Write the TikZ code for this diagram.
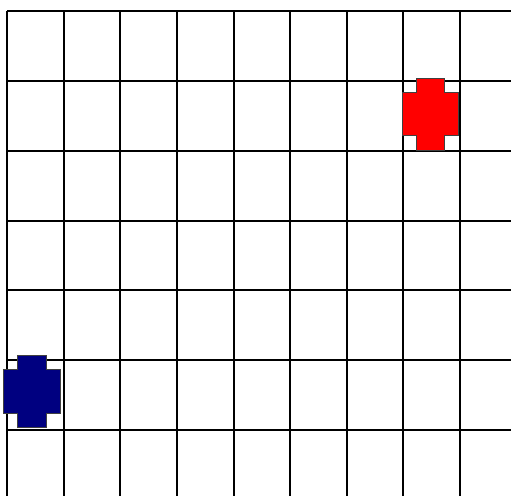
\documentclass[tikz,border=0pt]{standalone}
\begin{document}
\begin{tikzpicture}[x=1pt,y=-1pt,
  gridline/.style={line width=2pt,black},
  crossshape/.style={draw=black!75,line width=1pt}]
\useasboundingbox[fill=white] (0,0) rectangle (511,496);
% vertical lines
\foreach \x in {7,63.6,120.2,176.9,233.5,290.1,346.7,403.3,460} {
  \draw[gridline] (\x,11) -- (\x,496);
}
% horizontal lines
\foreach \y in {11,81,151,220.5,290.3,360,430} {
  \draw[gridline] (7,\y) -- (511,\y);
}
% red cross
\fill[red] (416,78) -- (444.5,78) -- (444.5,92.5) -- (458.5,92.5) -- (458.5,135.5) -- (444.5,135.5) -- (444.5,150) -- (416,150) -- (416,135.5) -- (402,135.5) -- (402,92.5) -- (416,92.5) -- cycle;
\draw[crossshape] (416,78) -- (444.5,78) -- (444.5,92.5) -- (458.5,92.5) -- (458.5,135.5) -- (444.5,135.5) -- (444.5,150) -- (416,150) -- (416,135.5) -- (402,135.5) -- (402,92.5) -- (416,92.5) -- cycle;
% blue cross
\fill[fill={rgb,255:red,0;green,0;blue,128}] (17.5,355.5) -- (46,355.5) -- (46,369.5) -- (60.5,369.5) -- (60.5,413.5) -- (46,413.5) -- (46,427.5) -- (17.5,427.5) -- (17.5,413.5) -- (3.5,413.5) -- (3.5,369.5) -- (17.5,369.5) -- cycle;
\draw[crossshape] (17.5,355.5) -- (46,355.5) -- (46,369.5) -- (60.5,369.5) -- (60.5,413.5) -- (46,413.5) -- (46,427.5) -- (17.5,427.5) -- (17.5,413.5) -- (3.5,413.5) -- (3.5,369.5) -- (17.5,369.5) -- cycle;
\end{tikzpicture}
\end{document}
